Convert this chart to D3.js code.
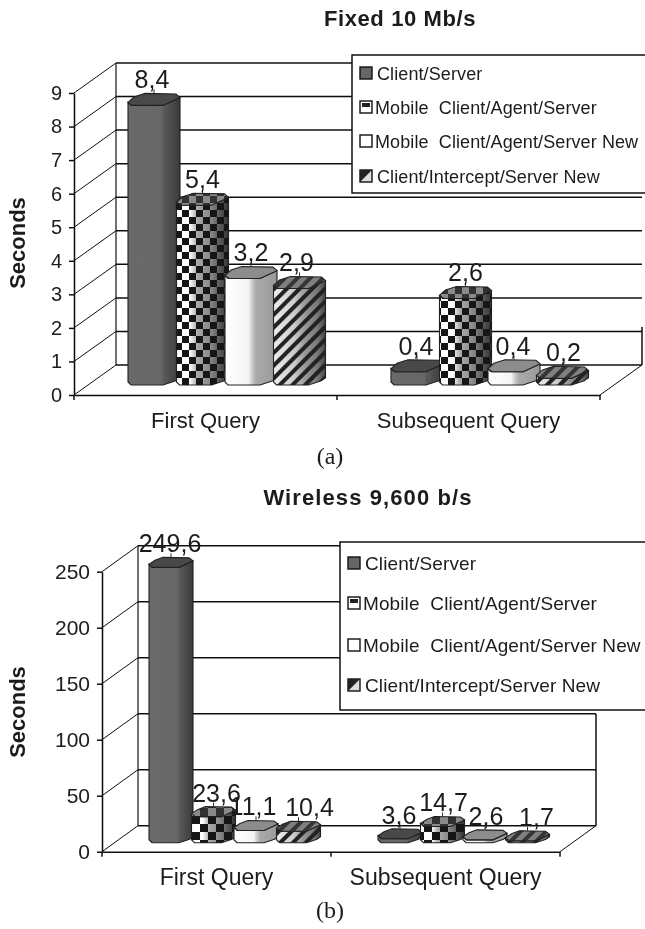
<!DOCTYPE html>
<html>
<head>
<meta charset="utf-8">
<script src="https://cdn.jsdelivr.net/npm/d3@7"></script>
<style>
body { margin: 0; background: #fff; }
text { font-family: "Liberation Sans", Arial, sans-serif; fill: #1c1c1c; }
.axis path, .axis line { stroke: #111; stroke-width: 1.5; }
</style>
</head>
<body>
<div id="chart"></div>
<script>
const categories = ["First Query", "Subsequent Query"];
const seriesNames = ["Client/Server", "Mobile Client/Agent/Server", "Mobile Client/Agent/Server New", "Client/Intercept/Server New"];

// values per series, one per category
const fixedClientServer = [8.4, 0.4];
const fixedMobile = [5.4, 2.6];
const fixedMobileNew = [3.2, 0.4];
const fixedIntercept = [2.9, 0.2];
const fixedTicks = [0, 1, 2, 3, 4, 5, 6, 7, 8, 9];

const wirelessClientServer = [249.6, 3.6];
const wirelessMobile = [23.6, 14.7];
const wirelessMobileNew = [11.1, 2.6];
const wirelessIntercept = [10.4, 1.7];
const wirelessTicks = [0, 50, 100, 150, 200, 250];

const svg = d3.select("#chart").append("svg")
    .attr("width", 645).attr("height", 929).style("display", "block");
const defs = svg.append("defs");

// the source is a blurry scan
defs.append("filter").attr("id", "scan").attr("x", 0).attr("y", 0).attr("width", 1).attr("height", 1)
    .append("feGaussianBlur").attr("stdDeviation", 0.45);

function gradient(id, stops) {
    const g = defs.append("linearGradient").attr("id", id);
    stops.forEach(s => g.append("stop").attr("offset", s[0]).attr("stop-color", s[1]));
}
gradient("shade0", [[0, "#6a6a6a"], [0.65, "#666"], [0.68, "#5a5a5a"], [0.8, "#4e4e4e"], [1, "#3a3a3a"]]);
gradient("shade1", [[0, "#fff"], [0.25, "#fff"], [0.4, "#aaa"], [0.65, "#888"], [0.85, "#555"], [1, "#333"]]);
gradient("shade2", [[0, "#fff"], [0.45, "#f4f4f4"], [0.52, "#ccc"], [0.6, "#aaa"], [1, "#999"]]);
gradient("shade3", [[0, "#eee"], [0.4, "#ccc"], [0.6, "#999"], [0.85, "#777"], [1, "#444"]]);
const topFill = ["#484848", "#8a8a8a", "#8c8c8c", "#808080"];

function checker(id, size) {
    const p = defs.append("pattern").attr("id", id).attr("patternUnits", "userSpaceOnUse")
        .attr("width", size * 2).attr("height", size * 2);
    p.append("rect").attr("width", size).attr("height", size).attr("fill", "#151515");
    p.append("rect").attr("x", size).attr("y", size).attr("width", size).attr("height", size).attr("fill", "#151515");
}
function stripes(id, size) {
    const p = defs.append("pattern").attr("id", id).attr("patternUnits", "userSpaceOnUse")
        .attr("width", size).attr("height", size).attr("patternTransform", "rotate(45)");
    p.append("rect").attr("width", size * 0.45).attr("height", size).attr("fill", "#222");
}
checker("checkA", 7);
checker("checkB", 8);
stripes("stripes", 9);

const root = svg.append("g").attr("filter", "url(#scan)");

function drawChart(cfg) {
    const g = root.append("g");
    const y = d3.scaleLinear().domain([0, cfg.ticks[cfg.ticks.length - 1]]).range(cfg.yRange);
    const x = d3.scaleBand().domain(categories).range(cfg.xRange);
    const inner = d3.scaleBand().domain(seriesNames).range(cfg.innerRange);
    const [x0, x1] = cfg.xRange;
    const [dx, dy] = cfg.depth;
    const barH = v => Math.abs(y(v) - y(0)) * cfg.barScale;

    // back wall and gridlines
    g.selectAll(".grid").data(cfg.ticks).join("line")
        .attr("x1", x0 + dx).attr("x2", x1 + dx)
        .attr("y1", d => y(d) + dy).attr("y2", d => y(d) + dy)
        .attr("stroke", "#111").attr("stroke-width", 1.5);
    g.append("line").attr("x1", x0 + dx).attr("x2", x0 + dx)
        .attr("y1", y(0) + dy).attr("y2", y.range()[1] + dy)
        .attr("stroke", "#111").attr("stroke-width", 1.2);
    g.append("line").attr("x1", x1 + dx).attr("x2", x1 + dx)
        .attr("y1", y(0) + dy).attr("y2", cfg.rightWallTop)
        .attr("stroke", "#111").attr("stroke-width", 1.5);

    // side wall
    g.selectAll(".side").data(cfg.ticks).join("line")
        .attr("x1", x0).attr("x2", x0 + dx)
        .attr("y1", d => y(d)).attr("y2", d => y(d) + dy)
        .attr("stroke", "#111").attr("stroke-width", 1);
    g.append("line").attr("x1", x1).attr("x2", x1 + dx)
        .attr("y1", y(0)).attr("y2", y(0) + dy)
        .attr("stroke", "#111").attr("stroke-width", 1);

    // axes
    g.append("g").attr("class", "axis").attr("transform", "translate(" + x0 + ",0)")
        .call(d3.axisLeft(y).tickValues(cfg.ticks).tickSize(5).tickPadding(7).tickSizeOuter(0))
        .call(a => a.selectAll("text").style("font-size", cfg.tickFont + "px").style("font-family", null));
    g.append("g").attr("class", "axis").attr("transform", "translate(0," + y(0) + ")")
        .call(d3.axisBottom(x).tickSize(0).tickPadding(17).tickSizeOuter(0))
        .call(a => a.selectAll("text").style("font-size", cfg.catFont + "px").style("font-family", null));
    g.selectAll(".edge").data([x0, x(categories[1]), x1]).join("line")
        .attr("x1", d => d).attr("x2", d => d)
        .attr("y1", y(0)).attr("y2", y(0) + 5)
        .attr("stroke", "#111").attr("stroke-width", 1.5);

    // bars
    const line = d3.line();
    seriesNames.forEach((name, s) => {
        cfg.values[s].forEach((v, c) => {
            const left = x(categories[c]) + inner(name);
            const w = cfg.barWidth, d = cfg.barDepth, h = cfg.barTop;
            const base = cfg.barBase;
            const top = base - barH(v);
            const body = line([
                [left, top - 3], [left + 3, top], [left + w, top], [left + w + d, top - h * 0.65],
                [left + w + d, base - h * 0.6], [left + w + d * 0.75, base - h * 0.35], [left + w, base],
                [left + 3, base], [left, base - 3]
            ]) + "Z";
            const lid = line([
                [left, top - 3], [left + 4, top], [left + w, top], [left + w + d, top - h * 0.65],
                [left + w + d - 4, top - h * 0.95], [left + d, top - h], [left + 6, top - h * 0.7]
            ]) + "Z";
            g.append("path").attr("d", body).attr("fill", "url(#shade" + s + ")")
                .attr("stroke", "#222").attr("stroke-width", 1.1);
            if (s === 1) g.append("path").attr("d", body).attr("fill", "url(#" + cfg.check + ")");
            if (s === 3) g.append("path").attr("d", body).attr("fill", "url(#stripes)");
            g.append("path").attr("d", lid).attr("fill", topFill[s])
                .attr("stroke", "#222").attr("stroke-width", 1.1);
            if (s === 1) g.append("path").attr("d", lid).attr("fill", "url(#" + cfg.check + ")").attr("opacity", 0.75);
            if (s === 3) g.append("path").attr("d", lid).attr("fill", "url(#stripes)").attr("opacity", 0.8);
            // leader + value label
            const mid = left + (w + d) / 2;
            const nudge = cfg.nudge[s][c];
            g.append("line").attr("x1", mid).attr("x2", mid)
                .attr("y1", top - h).attr("y2", top - h - 4)
                .attr("stroke", "#333").attr("stroke-width", 1);
            g.append("text").attr("x", mid + nudge).attr("y", top - cfg.labelGap)
                .attr("text-anchor", "middle")
                .style("font-size", "25px")
                .text(cfg.fmt(v));
        });
    });

    // title, y label, caption
    g.append("text").attr("x", cfg.titleX).attr("y", cfg.titleY).attr("text-anchor", "middle")
        .style("font-size", "22px").style("font-weight", "bold").style("letter-spacing", cfg.titleSpacing + "px").text(cfg.title);
    g.append("text").attr("transform", "translate(25," + cfg.secondsY + ")rotate(-90)")
        .attr("text-anchor", "middle").style("font-size", "22px").style("font-weight", "bold")
        .text("Seconds");
    g.append("text").attr("x", 330).attr("y", cfg.captionY).attr("text-anchor", "middle")
        .style("font-family", '"Liberation Serif", serif').style("font-size", "24px").text(cfg.caption);

    // legend, runs off the right edge of the page as in the source
    const lg = cfg.legend;
    g.append("rect").attr("x", lg.x).attr("y", lg.y).attr("width", 660 - lg.x).attr("height", lg.h)
        .attr("fill", "#fff").attr("stroke", "#111").attr("stroke-width", 1.5);
    seriesNames.forEach((name, s) => {
        const cy = lg.rows[s];
        g.append("rect").attr("x", lg.x + 8).attr("y", cy - 6).attr("width", 12).attr("height", 12)
            .attr("fill", ["#666", "#fff", "#fff", "#ddd"][s]).attr("stroke", "#111").attr("stroke-width", 1.4);
        if (s === 1) g.append("rect").attr("x", lg.x + 10).attr("y", cy - 4).attr("width", 8).attr("height", 4).attr("fill", "#222");
        if (s === 3) g.append("path").attr("d", line([[lg.x + 8, cy + 6], [lg.x + 20, cy - 6], [lg.x + 8, cy - 6]]) + "Z").attr("fill", "#222");
        g.append("text").attr("x", lg.x + (s === 1 || s === 2 ? 23 : 25)).attr("y", cy + 7)
            .style("font-size", lg.font + "px").style("letter-spacing", "0.1px")
            .text(name.replace("Mobile ", "Mobile  ")).attr("xml:space", "preserve");
    });
}

const commaFormat = d3.formatLocale({ decimal: ",", thousands: ".", grouping: [3], currency: ["", ""] }).format(".1f");

drawChart({
    title: "Fixed 10 Mb/s", titleX: 400, titleY: 26, titleSpacing: 0.6,
    caption: "(a)", captionY: 464, secondsY: 243,
    values: [fixedClientServer, fixedMobile, fixedMobileNew, fixedIntercept],
    ticks: fixedTicks, fmt: commaFormat, tickFont: 20, catFont: 22,
    xRange: [74, 600], yRange: [395, 93], depth: [42, -30], rightWallTop: 327,
    innerRange: [54, 248], barWidth: 35, barDepth: 17, barTop: 12, barBase: 385, barScale: 0.992,
    labelGap: 17, check: "checkA",
    nudge: [[-2, -1], [0, 0], [0, -1], [-3, 1]],
    legend: { x: 352, y: 55, h: 138, font: 18, rows: [73, 107, 141, 176] }
});

drawChart({
    title: "Wireless 9,600 b/s", titleX: 368, titleY: 505, titleSpacing: 1.1,
    caption: "(b)", captionY: 918, secondsY: 712,
    values: [wirelessClientServer, wirelessMobile, wirelessMobileNew, wirelessIntercept],
    ticks: wirelessTicks, fmt: commaFormat, tickFont: 21, catFont: 23,
    xRange: [102, 560], yRange: [851.7, 571.7], depth: [36, -26], rightWallTop: 714,
    innerRange: [47, 217], barWidth: 30, barDepth: 14, barTop: 10, barBase: 842.7, barScale: 0.985,
    labelGap: 15, check: "checkB",
    nudge: [[-1, -1], [3, 1], [-3, 1], [11, 9]],
    legend: { x: 340, y: 542, h: 168, font: 19, rows: [563, 603, 645, 685] }
});
</script>
</body>
</html>
